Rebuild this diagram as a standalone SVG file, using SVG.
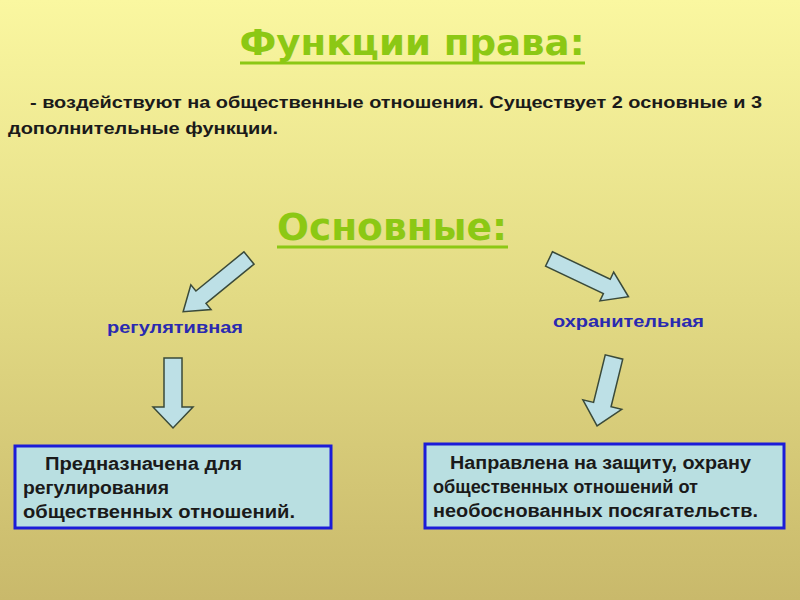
<svg xmlns="http://www.w3.org/2000/svg" width="800" height="600" viewBox="0 0 800 600">
<defs>
<linearGradient id="bg" x1="0" y1="0" x2="0" y2="1">
<stop offset="0" stop-color="#faf7a0"/>
<stop offset="0.5" stop-color="#e2da84"/>
<stop offset="1" stop-color="#c9b96b"/>
</linearGradient>
<style>
.ttl{font-family:"Comic Sans MS","DejaVu Sans",sans-serif;font-weight:bold;fill:#8cc814}
.body{font-family:"Liberation Sans",Arial,sans-serif;font-weight:bold;font-size:16px;fill:#1a1a1a}
.lbl{font-family:"Liberation Sans",Arial,sans-serif;font-weight:bold;font-size:16px;fill:#2a2ab0}
.box{fill:#b9dfe1;stroke:#1c1cd8;stroke-width:3}
.btxt{font-family:"Liberation Sans",Arial,sans-serif;font-weight:bold;font-size:18px;fill:#1a1a1a}
.arr{fill:#bde0e6;stroke:#3a4a3a;stroke-width:1.5;stroke-linejoin:miter}
</style>
</defs>
<rect width="800" height="600" fill="url(#bg)"/>
<g id="title">
<text class="ttl" x="412" y="55" font-size="36" text-anchor="middle" textLength="345" lengthAdjust="spacingAndGlyphs">Функции права:</text>
<line x1="240" y1="63" x2="585" y2="63" stroke="#8cc814" stroke-width="3"/>
</g>
<g id="intro">
<text class="body" x="30" y="108" textLength="732" lengthAdjust="spacingAndGlyphs">- воздействуют на общественные отношения. Существует 2 основные и 3</text>
<text class="body" x="8" y="134" textLength="270" lengthAdjust="spacingAndGlyphs">дополнительные функции.</text>
</g>
<g id="osnovnye">
<text class="ttl" x="392" y="240" font-size="38" text-anchor="middle" textLength="230" lengthAdjust="spacingAndGlyphs">Основные:</text>
<line x1="277" y1="247" x2="508" y2="247" stroke="#8cc814" stroke-width="3"/>
</g>
<g id="connectors">
<polygon class="arr" transform="translate(249,258) rotate(140.8)" points="0,-8 62,-8 62,-16 85,0 62,16 62,8 0,8"/>
<polygon class="arr" transform="translate(549,259) rotate(25.4)" points="0,-8 64,-8 64,-16 88,0 64,16 64,8 0,8"/>
<polygon class="arr" transform="translate(173,358) rotate(90)" points="0,-9 49,-9 49,-20 70,0 49,20 49,9 0,9"/>
<polygon class="arr" transform="translate(614,357) rotate(103.8)" points="0,-9 49,-9 49,-20 71,0 49,20 49,9 0,9"/>
</g>
<g id="reg">
<text class="lbl" x="107" y="333" textLength="136" lengthAdjust="spacingAndGlyphs">регулятивная</text>
</g>
<g id="ohr">
<text class="lbl" x="553" y="327" textLength="151" lengthAdjust="spacingAndGlyphs">охранительная</text>
</g>
<g id="box-left">
<rect class="box" x="15" y="446" width="316" height="82"/>
<text class="btxt" x="45" y="470" textLength="197" lengthAdjust="spacingAndGlyphs">Предназначена для</text>
<text class="btxt" x="23" y="494" textLength="146" lengthAdjust="spacingAndGlyphs">регулирования</text>
<text class="btxt" x="23" y="518" textLength="272" lengthAdjust="spacingAndGlyphs">общественных отношений.</text>
</g>
<g id="box-right">
<rect class="box" x="425" y="444" width="359" height="84"/>
<text class="btxt" x="450" y="469" textLength="301" lengthAdjust="spacingAndGlyphs">Направлена на защиту, охрану</text>
<text class="btxt" x="433" y="493" textLength="265" lengthAdjust="spacingAndGlyphs">общественных отношений от</text>
<text class="btxt" x="433" y="517" textLength="325" lengthAdjust="spacingAndGlyphs">необоснованных посягательств.</text>
</g>
</svg>
